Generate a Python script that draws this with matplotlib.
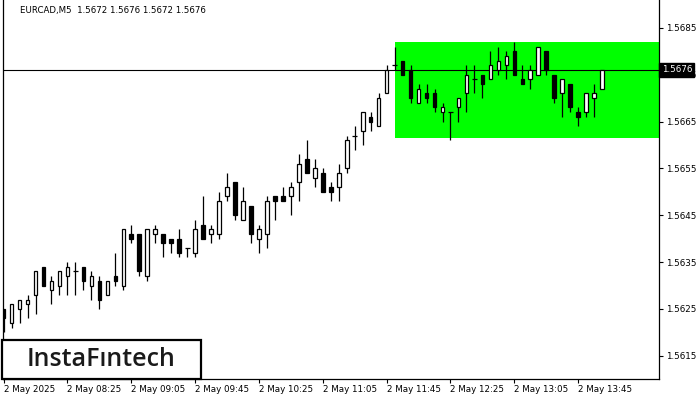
import numpy as np
import matplotlib
matplotlib.use('agg')
import matplotlib.pyplot as plt
from matplotlib.patches import Rectangle
from matplotlib.transforms import blended_transform_factory

# EURCAD M5 candles, 2 May 2025, from 07:45
opens = [1.5625, 1.5622, 1.5625, 1.5626, 1.5628, 1.5634, 1.5629, 1.5630, 1.5632, 1.5633,
         1.5634, 1.5630, 1.5631, 1.5628, 1.5632, 1.5630, 1.5641, 1.5641, 1.5632, 1.5641,
         1.5641, 1.5640, 1.5640, 1.5638, 1.5637, 1.5643, 1.5641, 1.5641, 1.5649, 1.5652,
         1.5644, 1.5647, 1.5640, 1.5641, 1.5649, 1.5649, 1.5649, 1.5652, 1.5657, 1.5653,
         1.5654, 1.5651, 1.5651, 1.5655, 1.5662, 1.5663, 1.5666, 1.5664, 1.5671, 1.5677,
         1.5678, 1.5676, 1.5669, 1.5671, 1.5671, 1.5667, 1.5667, 1.5668, 1.5671, 1.5674,
         1.5675, 1.5674, 1.5676, 1.5677, 1.5680, 1.5674, 1.5674, 1.5675, 1.5680, 1.5675,
         1.5671, 1.5673, 1.5667, 1.5667, 1.5670, 1.5672]
highs = [1.5625, 1.5626, 1.5627, 1.5628, 1.5633, 1.5634, 1.5632, 1.5633, 1.5635, 1.5635,
         1.5634, 1.5633, 1.5632, 1.5631, 1.5637, 1.5642, 1.5643, 1.5641, 1.5642, 1.5643,
         1.5641, 1.5640, 1.5642, 1.5638, 1.5644, 1.5649, 1.5643, 1.5650, 1.5654, 1.5652,
         1.5651, 1.5647, 1.5643, 1.5649, 1.5649, 1.5651, 1.5652, 1.5658, 1.5661, 1.5657,
         1.5655, 1.5652, 1.5656, 1.5662, 1.5664, 1.5667, 1.5667, 1.5671, 1.5677, 1.5681,
         1.5678, 1.5677, 1.5673, 1.5673, 1.5672, 1.5669, 1.5667, 1.5670, 1.5677, 1.5677,
         1.5675, 1.5680, 1.5681, 1.5680, 1.5682, 1.5677, 1.5677, 1.5681, 1.5680, 1.5675,
         1.5674, 1.5673, 1.5668, 1.5671, 1.5673, 1.5676]
lows = [1.5620, 1.5621, 1.5622, 1.5623, 1.5624, 1.5630, 1.5626, 1.5628, 1.5628, 1.5628,
        1.5629, 1.5627, 1.5625, 1.5628, 1.5630, 1.5629, 1.5639, 1.5632, 1.5631, 1.5639,
        1.5636, 1.5637, 1.5636, 1.5636, 1.5636, 1.5640, 1.5639, 1.5640, 1.5648, 1.5644,
        1.5644, 1.5639, 1.5637, 1.5638, 1.5644, 1.5648, 1.5645, 1.5648, 1.5654, 1.5651,
        1.5650, 1.5648, 1.5648, 1.5654, 1.5659, 1.5660, 1.5663, 1.5664, 1.5671, 1.5676,
        1.5675, 1.5669, 1.5669, 1.5669, 1.5667, 1.5665, 1.5661, 1.5665, 1.5667, 1.5671,
        1.5670, 1.5674, 1.5675, 1.5674, 1.5675, 1.5673, 1.5672, 1.5675, 1.5675, 1.5669,
        1.5666, 1.5667, 1.5664, 1.5666, 1.5666, 1.5672]
closes = [1.5623, 1.5626, 1.5627, 1.5627, 1.5633, 1.5630, 1.5631, 1.5633, 1.5634, 1.5633,
          1.5631, 1.5632, 1.5627, 1.5631, 1.5631, 1.5642, 1.5640, 1.5633, 1.5642, 1.5642,
          1.5639, 1.5639, 1.5637, 1.5638, 1.5642, 1.5640, 1.5642, 1.5648, 1.5651, 1.5645,
          1.5648, 1.5641, 1.5642, 1.5648, 1.5648, 1.5648, 1.5651, 1.5656, 1.5654, 1.5655,
          1.5650, 1.5650, 1.5654, 1.5661, 1.5662, 1.5667, 1.5665, 1.5670, 1.5676, 1.5677,
          1.5675, 1.5670, 1.5672, 1.5670, 1.5668, 1.5668, 1.5667, 1.5670, 1.5675, 1.5674,
          1.5673, 1.5677, 1.5678, 1.5679, 1.5675, 1.5673, 1.5676, 1.5681, 1.5676, 1.5670,
          1.5674, 1.5668, 1.5666, 1.5671, 1.5671, 1.5676]

time_labels = ['2 May 2025', '2 May 08:25', '2 May 09:05', '2 May 09:45', '2 May 10:25',
               '2 May 11:05', '2 May 11:45', '2 May 12:25', '2 May 13:05', '2 May 13:45']
price_ticks = [1.5615, 1.5625, 1.5635, 1.5645, 1.5655, 1.5665, 1.5675, 1.5685]

# rectangle pattern (bars from index 49 onward)
pattern_start = 49.05
pattern_top = 1.5682
pattern_bottom = 1.56615
current_price = 1.5676
title = 'EURCAD,M5  1.5672 1.5676 1.5672 1.5676'

plt.rcParams['font.family'] = ['DejaVu Sans']

fig = plt.figure(figsize=(7, 4), dpi=100)
ax = fig.add_axes([2.5 / 700, 21 / 400, 656.5 / 700, 379 / 400])

n = len(opens)
x = np.arange(n)
o = np.array(opens)
h = np.array(highs)
l = np.array(lows)
c = np.array(closes)

ax.set_xlim(-0.14, 82.13)
ax.set_ylim(1.561005, 1.569093)

# green rectangle zone
ax.add_patch(Rectangle((pattern_start, pattern_bottom), 100, pattern_top - pattern_bottom,
                       facecolor='#00ff00', edgecolor='none', zorder=1))
ax.axhline(current_price, color='black', lw=0.8, zorder=1.5)

# wicks
ax.vlines(x, l, h, color='black', lw=0.9, zorder=2)

# bodies
w = 0.45
for i in range(n):
    if o[i] == c[i]:
        ax.hlines(o[i], i - 0.3, i + 0.3, color='black', lw=0.9, zorder=3)
        continue
    bottom = min(o[i], c[i])
    fc = 'white' if c[i] > o[i] else 'black'
    ax.bar(i, abs(c[i] - o[i]), bottom=bottom, width=w, facecolor=fc,
           edgecolor='black', linewidth=0.9, zorder=3)

# axes look
for s in ['left', 'bottom', 'right']:
    ax.spines[s].set_linewidth(0.9)
ax.spines['top'].set_visible(False)

ax.yaxis.tick_right()
ax.set_yticks(price_ticks)
ax.set_yticklabels(['%.4f' % p for p in price_ticks])
ax.tick_params(axis='y', direction='out', length=3, width=0.8, pad=2, labelsize=6.3)

ax.set_xticks(np.arange(len(time_labels)) * 8)
ax.set_xticklabels(time_labels, ha='left')
ax.tick_params(axis='x', direction='out', length=3, width=0.8, pad=1.5, labelsize=6.3)

# title
ax.text(17.5 / 656.5, 1 - 11 / 379, title, transform=ax.transAxes, fontsize=6.2,
        va='center', ha='left')

# current price label on the right axis
tr = blended_transform_factory(ax.transAxes, ax.transData)
ax.text(1.004, current_price, '%.4f' % current_price, transform=tr, fontsize=6.3,
        color='white', va='center', ha='left', clip_on=False, zorder=10,
        bbox=dict(facecolor='black', edgecolor='black', pad=1.6))

# logo box
fig.add_artist(Rectangle((2 / 700, 21 / 400), 199 / 700, 39 / 400, transform=fig.transFigure,
                         facecolor='white', edgecolor='black', lw=1.6, zorder=20))
fig.text(101 / 700, 1 - 359.5 / 400, 'InstaF\u0131ntech', fontsize=18, color='#1a1a1a',
         family='Open Sans', fontweight='semibold', ha='center', va='center', zorder=21)

fig.savefig('out.png', dpi=100)
